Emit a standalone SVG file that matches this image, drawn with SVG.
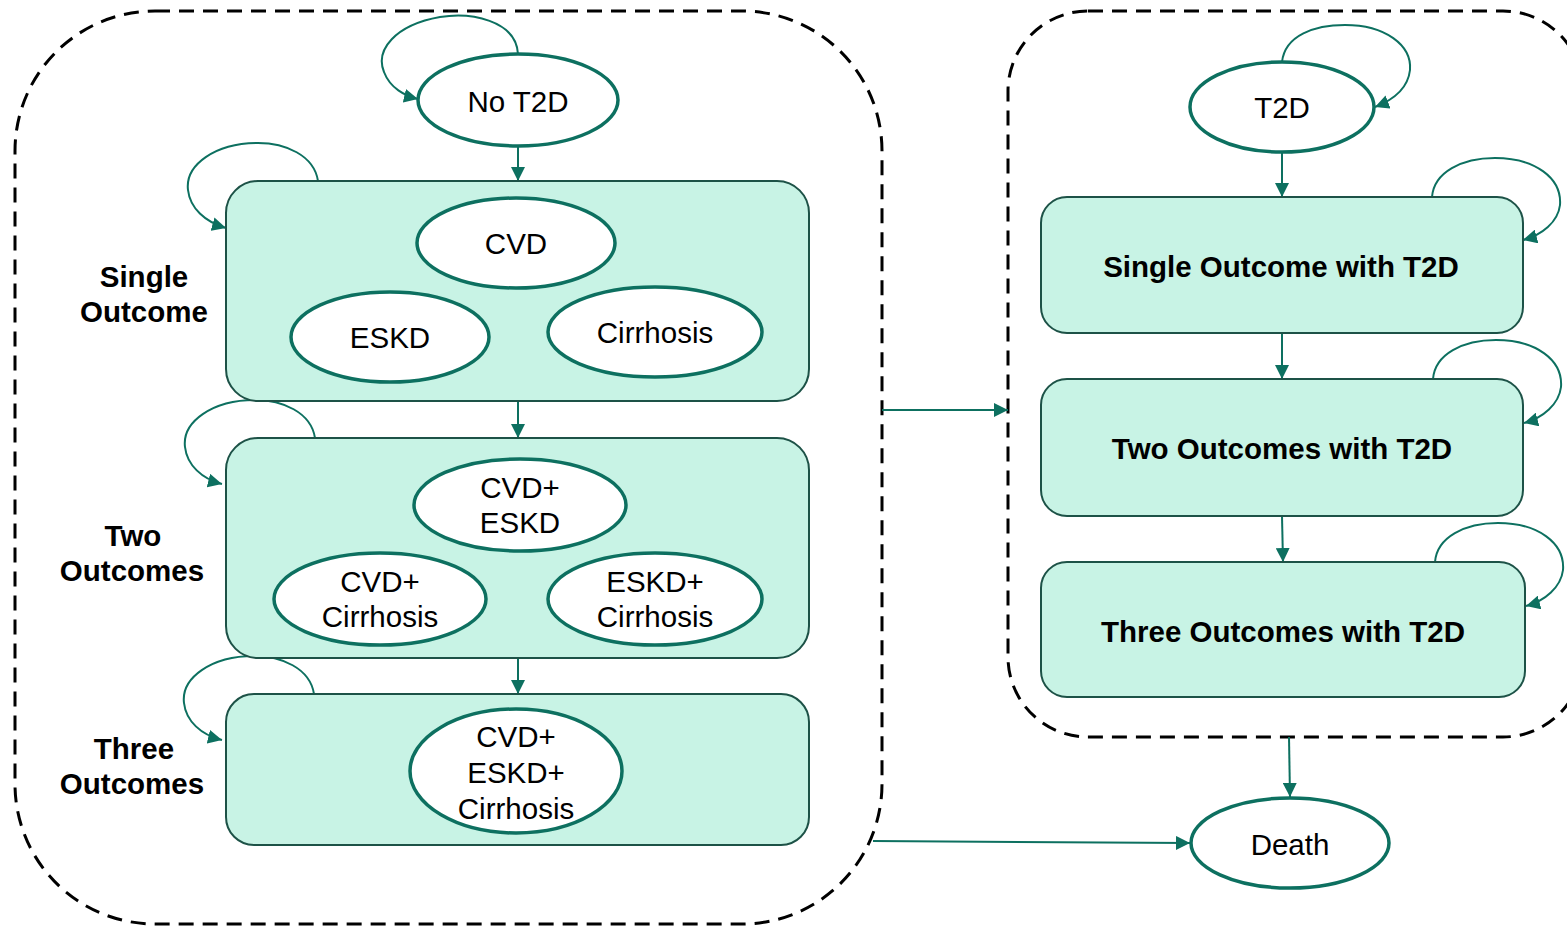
<svg xmlns="http://www.w3.org/2000/svg" width="1567" height="926" viewBox="0 0 1567 926">
<style>
.dash{fill:none;stroke:#000;stroke-width:3;stroke-dasharray:15 9}
.box{fill:#c8f3e5;stroke:#1d5247;stroke-width:2}
.ell{fill:#fff;stroke:#0d7060;stroke-width:3.5}
.con{fill:none;stroke:#0d7060;stroke-width:2;marker-end:url(#ah)}
.t{font-family:"Liberation Sans",Arial,sans-serif;font-size:29.5px;fill:#000;text-anchor:middle;dominant-baseline:central}
.b{font-weight:bold}
</style>
<defs>
<marker id="ah" markerUnits="userSpaceOnUse" markerWidth="16" markerHeight="14" refX="14" refY="7" orient="auto">
<path d="M0,0 L14,7 L0,14 Z" fill="#0d7060"/>
</marker>
</defs>
<rect class="dash" x="15" y="11" width="867" height="913" rx="140"/>
<rect class="dash" x="1008" y="11" width="575" height="726" rx="80"/>
<g id="connectors">
<path class="con" d="M518,54 C516,20 470,12 440,17 C395,25 375,50 384,72 C390,88 405,96 418,99"/>
<path class="con" d="M518,147 L518,181"/>
<path class="con" d="M318,181 C314,155 285,143 258,143 C215,143 185,165 188,190 C190,208 205,222 226,228"/>
<path class="con" d="M315,438 C311,412 282,400 255,400 C212,400 182,422 185,447 C187,465 202,479 222,484"/>
<path class="con" d="M314,694 C310,668 281,656 254,656 C211,656 181,678 184,703 C186,721 201,735 222,740"/>
<path class="con" d="M518,401 L518,438"/>
<path class="con" d="M518,658 L518,694"/>
<path class="con" d="M1282,62 C1285,35 1315,25 1345,25 C1385,25 1412,45 1410,70 C1408,88 1393,100 1375,107"/>
<path class="con" d="M1282,152 L1282,197"/>
<path class="con" d="M1432,197 C1434,172 1462,158 1495,158 C1535,158 1562,178 1560,205 C1558,222 1542,235 1523,240"/>
<path class="con" d="M1433,379 C1435,354 1463,340 1496,340 C1536,340 1563,360 1561,387 C1559,404 1543,418 1524,423"/>
<path class="con" d="M1435,562 C1437,537 1465,523 1498,523 C1538,523 1565,543 1563,570 C1561,587 1545,601 1526,606"/>
<path class="con" d="M1282,333 L1282,379"/>
<path class="con" d="M1282,516 L1283,562"/>
<path class="con" d="M882,410 L1008,410"/>
<path class="con" d="M873,841 L1190,843"/>
<path class="con" d="M1289,737 L1290,797"/>
</g>
<g id="no-t2d"><ellipse class="ell" cx="518" cy="100" rx="100" ry="46"/><text class="t" x="518" y="101">No T2D</text></g>
<g id="single-outcome">
<rect class="box" x="226" y="181" width="583" height="220" rx="32"/>
<text class="t b" x="144" y="276">Single</text><text class="t b" x="144" y="311">Outcome</text>
</g>
<g id="cvd"><ellipse class="ell" cx="516" cy="243" rx="99" ry="45"/><text class="t" x="516" y="243">CVD</text></g>
<g id="eskd"><ellipse class="ell" cx="390" cy="337" rx="99" ry="45"/><text class="t" x="390" y="337">ESKD</text></g>
<g id="cirrhosis"><ellipse class="ell" cx="655" cy="332" rx="107" ry="45"/><text class="t" x="655" y="332">Cirrhosis</text></g>
<g id="two-outcomes">
<rect class="box" x="226" y="438" width="583" height="220" rx="32"/>
<text class="t b" x="133" y="535">Two</text><text class="t b" x="132" y="570">Outcomes</text>
</g>
<g id="cvd-eskd"><ellipse class="ell" cx="520" cy="505" rx="106" ry="46"/><text class="t" x="520" y="487">CVD+</text><text class="t" x="520" y="522">ESKD</text></g>
<g id="cvd-cirrhosis"><ellipse class="ell" cx="380" cy="599" rx="106" ry="46"/><text class="t" x="380" y="581">CVD+</text><text class="t" x="380" y="616">Cirrhosis</text></g>
<g id="eskd-cirrhosis"><ellipse class="ell" cx="655" cy="599" rx="107" ry="46"/><text class="t" x="655" y="581">ESKD+</text><text class="t" x="655" y="616">Cirrhosis</text></g>
<g id="three-outcomes">
<rect class="box" x="226" y="694" width="583" height="151" rx="28"/>
<text class="t b" x="134" y="748">Three</text><text class="t b" x="132" y="783">Outcomes</text>
</g>
<g id="cvd-eskd-cirrhosis"><ellipse class="ell" cx="516" cy="771" rx="106" ry="62"/><text class="t" x="516" y="736">CVD+</text><text class="t" x="516" y="772">ESKD+</text><text class="t" x="516" y="808">Cirrhosis</text></g>
<g id="t2d"><ellipse class="ell" cx="1282" cy="107" rx="92" ry="45"/><text class="t" x="1282" y="107">T2D</text></g>
<g id="single-t2d"><rect class="box" x="1041" y="197" width="482" height="136" rx="26"/><text class="t b" x="1281" y="266">Single Outcome with T2D</text></g>
<g id="two-t2d"><rect class="box" x="1041" y="379" width="482" height="137" rx="26"/><text class="t b" x="1282" y="448">Two Outcomes with T2D</text></g>
<g id="three-t2d"><rect class="box" x="1041" y="562" width="484" height="135" rx="26"/><text class="t b" x="1283" y="631">Three Outcomes with T2D</text></g>
<g id="death"><ellipse class="ell" cx="1290" cy="843" rx="99" ry="45"/><text class="t" x="1290" y="844">Death</text></g>
</svg>
